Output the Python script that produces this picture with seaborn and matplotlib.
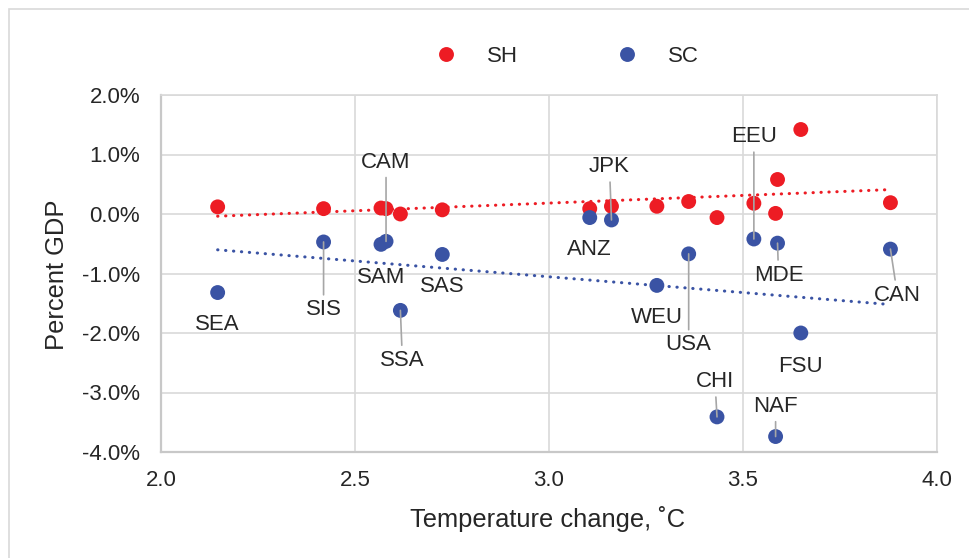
import numpy as np
import pandas as pd
import matplotlib
matplotlib.use('Agg')
import matplotlib.pyplot as plt
import seaborn as sns
from matplotlib.patches import Rectangle
from matplotlib.ticker import FuncFormatter

# values (percent GDP)
regions = ['SEA', 'SIS', 'SAM', 'CAM', 'SSA', 'SAS', 'ANZ', 'JPK',
           'WEU', 'USA', 'CHI', 'EEU', 'NAF', 'MDE', 'FSU', 'CAN']
temp_change = [2.146, 2.419, 2.567, 2.580, 2.617, 2.725, 3.105, 3.161,
               3.278, 3.360, 3.433, 3.528, 3.584, 3.589, 3.649, 3.880]
sh_values = [0.12, 0.09, 0.10, 0.09, 0.00, 0.07, 0.09, 0.13,
             0.13, 0.21, -0.06, 0.18, 0.01, 0.58, 1.42, 0.19]
sc_values = [-1.32, -0.47, -0.51, -0.46, -1.62, -0.68, -0.06, -0.10,
             -1.20, -0.67, -3.41, -0.42, -3.74, -0.49, -2.00, -0.59]

# label offsets in pixels (dx, dy) and whether a leader line is drawn
label_offsets = {
    'SEA': (0, -32, False), 'SIS': (0, -68, True), 'SAM': (0, -33, False),
    'CAM': (0, 79, True), 'SSA': (2, -50, True), 'SAS': (0, -32, False),
    'ANZ': (0, -32, False), 'JPK': (-2, 53, True), 'WEU': (0, -32, False),
    'USA': (0, -91, True), 'CHI': (-2, 35, True), 'EEU': (0, 102, True),
    'NAF': (0, 30, True), 'MDE': (1, -32, True), 'FSU': (0, -33, False),
    'CAN': (7, -46, True),
}

RED = '#ED1C24'
BLUE = '#3A53A4'
GRID = '#d9d9d9'
TEXT = '#262626'

sns.set_style('white')
plt.rcParams['font.family'] = ['Liberation Sans', 'DejaVu Sans']
plt.rcParams['font.size'] = 16

df = pd.DataFrame({
    'region': regions * 2,
    'temp': temp_change * 2,
    'gdp': sh_values + sc_values,
    'series': ['SH'] * len(regions) + ['SC'] * len(regions),
})

fig = plt.figure(figsize=(9.7, 5.58), dpi=100)
ax = fig.add_axes([161 / 970, 1 - 452 / 558, 776 / 970, 357 / 558])

# trend lines
for name, color in [('SH', RED), ('SC', BLUE)]:
    sub = df[df['series'] == name]
    sns.regplot(data=sub, x='temp', y='gdp', ax=ax, scatter=False, ci=None,
                color=color,
                line_kws=dict(lw=2.2, ls=(0, (0.1, 2.5)),
                              dash_capstyle='round', zorder=2))

sns.scatterplot(data=df, x='temp', y='gdp', hue='series',
                palette={'SH': RED, 'SC': BLUE}, s=115, linewidth=0,
                ax=ax, zorder=3)

# region labels (placed next to the SC points)
for reg, x, y in zip(regions, temp_change, sc_values):
    dx, dy, leader = label_offsets[reg]
    kw = {}
    if leader:
        kw['arrowprops'] = dict(arrowstyle='-', color='#a6a6a6', lw=1.2,
                                shrinkA=1, shrinkB=0)
    ax.annotate(reg, xy=(x, y), xytext=(dx, dy), textcoords='offset pixels',
                ha='center', va='center', fontsize=16, color=TEXT,
                zorder=4, **kw)

ax.set_xlim(2.0, 4.0)
ax.set_ylim(-4.0, 2.0)
ax.set_xticks(np.arange(2.0, 4.01, 0.5))
ax.set_yticks(np.arange(-4.0, 2.01, 1.0))
ax.xaxis.set_major_formatter(FuncFormatter(lambda v, p: f'{v:.1f}'))
ax.yaxis.set_major_formatter(FuncFormatter(lambda v, p: f'{v:.1f}%'))
ax.tick_params(axis='both', length=0, labelsize=16, labelcolor=TEXT)
ax.tick_params(axis='y', pad=15)
ax.tick_params(axis='x', pad=13)
ax.grid(True, color=GRID, lw=1.2)
ax.set_axisbelow(True)
for side in ['top', 'right']:
    ax.spines[side].set_color(GRID)
    ax.spines[side].set_linewidth(1.2)
for side in ['left', 'bottom']:
    ax.spines[side].set_color('#c8c8c8')
    ax.spines[side].set_linewidth(1.6)
ax.set_xlabel('')
ax.set_ylabel('')

fig.text(57 / 970, 1 - 275 / 558, 'Percent GDP', rotation=90,
         ha='center', va='center', fontsize=18.4, color=TEXT)
fig.text(548 / 970, 1 - 519 / 558, 'Temperature change, \u02daC',
         ha='center', va='center', fontsize=18.4, color=TEXT)

handles, labels = ax.get_legend_handles_labels()
ax.legend_.remove()
fig.legend(handles, labels, loc='center', ncol=2, frameon=False,
           bbox_to_anchor=(561 / 970, 1 - 56 / 558), fontsize=16,
           handletextpad=0.85, columnspacing=3.9, markerscale=1.0,
           labelcolor=TEXT)

# chart border
fig.patches.append(Rectangle((9 / 970, -0.1), 2, 1 - 9 / 558 + 0.1,
                             transform=fig.transFigure, fill=False,
                             ec=GRID, lw=1.2))

fig.savefig('out.png', dpi=100)
